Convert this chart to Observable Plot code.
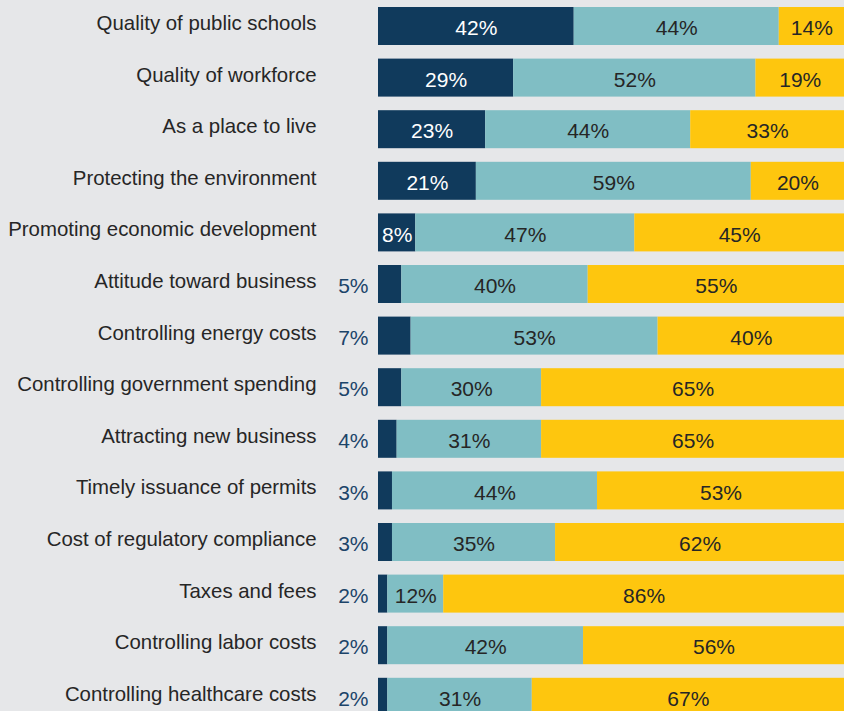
<!DOCTYPE html>
<html>
<head>
<meta charset="utf-8">
<script src="https://cdn.jsdelivr.net/npm/d3@7"></script>
<script src="https://cdn.jsdelivr.net/npm/@observablehq/plot@0.6"></script>
<style>
  html, body { margin: 0; padding: 0; background: #e6e7e9; }
  #wrap { width: 844px; height: 711px; overflow: hidden; position: relative; }
  #wrap svg { background: transparent; }
</style>
</head>
<body>
<div id="wrap"></div>
<script>
const categories = [
  "Quality of public schools",
  "Quality of workforce",
  "As a place to live",
  "Protecting the environment",
  "Promoting economic development",
  "Attitude toward business",
  "Controlling energy costs",
  "Controlling government spending",
  "Attracting new business",
  "Timely issuance of permits",
  "Cost of regulatory compliance",
  "Taxes and fees",
  "Controlling labor costs",
  "Controlling healthcare costs"
];
const seriesNames = ["Strong", "Middle", "Weak"];
const strongValues = [42, 29, 23, 21, 8, 5, 7, 5, 4, 3, 3, 2, 2, 2];
const middleValues = [44, 52, 44, 59, 47, 40, 53, 30, 31, 44, 35, 12, 42, 31];
const weakValues   = [14, 19, 33, 20, 45, 55, 40, 65, 65, 53, 62, 86, 56, 67];
const seriesColors = ["#103a5c", "#80bec4", "#fec60e"];

const seriesValues = [strongValues, middleValues, weakValues];
const rows = [];
categories.forEach((cat, i) => {
  let acc = 0;
  seriesNames.forEach((s, j) => {
    const v = seriesValues[j][i];
    rows.push({cat, series: s, value: v, x1: acc, x2: acc + v, mid: acc + v / 2});
    acc += v;
  });
});
const inside = rows.filter(d => !(d.series === "Strong" && d.value < 8));
const outside = rows.filter(d => d.series === "Strong" && d.value < 8);

const font = "'Liberation Sans', Arial, Helvetica, sans-serif";

const chart = Plot.plot({
  width: 844,
  height: 711,
  marginLeft: 378,
  marginRight: 0,
  marginTop: 0,
  marginBottom: 0,
  style: {background: "transparent", fontFamily: font, overflow: "hidden"},
  x: {domain: [0, 100], range: [378, 844], axis: null},
  y: {domain: categories, range: [0.2, 722.6], round: false, paddingInner: 0.2636, paddingOuter: 0.1318, label: null},
  color: {domain: seriesNames, range: seriesColors},
  marks: [
    Plot.barX(rows, {x1: "x1", x2: "x2", y: "cat", fill: "series"}),
    Plot.text(inside, {
      x: "mid", y: "cat", text: d => d.value + "%",
      fill: d => d.series === "Strong" ? "#ffffff" : "#262626",
      fontSize: 21, dy: 2, fontFamily: font
    }),
    Plot.text(outside, {
      x: 0, y: "cat", text: d => d.value + "%",
      fill: "#1c4469", fontSize: 21, dx: -10, dy: 2, textAnchor: "end", fontFamily: font
    }),
    Plot.axisY({
      tickSize: 0, tickPadding: 62, fontSize: 20.4, color: "#262626",
      dy: -3, label: null, fontFamily: font
    })
  ]
});
document.getElementById("wrap").appendChild(chart);
</script>
</body>
</html>
